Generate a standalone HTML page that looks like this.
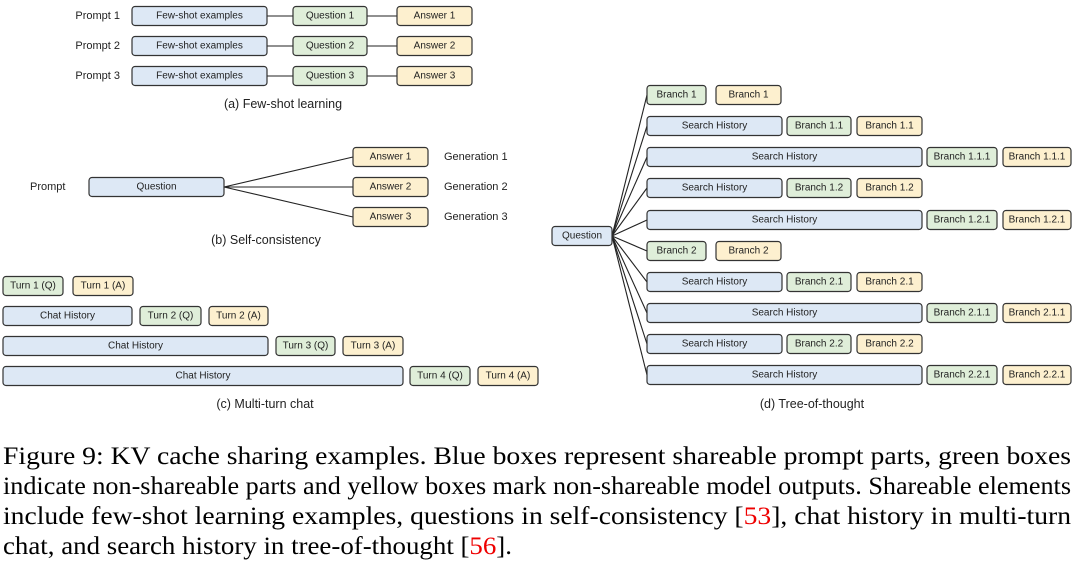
<!DOCTYPE html>
<html><head><meta charset="utf-8"><style>
html,body{margin:0;padding:0;background:#fff;}
svg{display:block;}
.b{fill:#dde8f5;stroke:#333;stroke-width:1.2;}
.g{fill:#dfeed9;stroke:#333;stroke-width:1.2;}
.y{fill:#fdf0cf;stroke:#333;stroke-width:1.2;}
.t{font-family:"Liberation Sans",sans-serif;font-size:10px;fill:#222;text-anchor:middle;dominant-baseline:central;}
.l{font-family:"Liberation Sans",sans-serif;font-size:11px;fill:#222;dominant-baseline:central;}
.c{font-family:"Liberation Sans",sans-serif;font-size:12.5px;fill:#222;text-anchor:middle;dominant-baseline:central;}
.cap{font-family:"Liberation Serif",serif;font-size:25px;fill:#000;}
.ln{stroke:#222;stroke-width:1.1;fill:none;}
</style></head><body>
<svg width="1080" height="562" viewBox="0 0 1080 562" xmlns="http://www.w3.org/2000/svg">
<g>
<line class="ln" x1="267" y1="16" x2="397" y2="16"/><line class="ln" x1="267" y1="46" x2="397" y2="46"/><line class="ln" x1="267" y1="76" x2="397" y2="76"/>
<text class="l" x="120" y="16" text-anchor="end">Prompt 1</text>
<text class="l" x="120" y="46" text-anchor="end">Prompt 2</text>
<text class="l" x="120" y="76" text-anchor="end">Prompt 3</text>
<rect class="b" x="132" y="6.5" width="135" height="19" rx="3"/><text class="t" x="199.5" y="16">Few-shot examples</text>
<rect class="b" x="132" y="36.5" width="135" height="19" rx="3"/><text class="t" x="199.5" y="46">Few-shot examples</text>
<rect class="b" x="132" y="66.5" width="135" height="19" rx="3"/><text class="t" x="199.5" y="76">Few-shot examples</text>
<rect class="g" x="293" y="6.5" width="74" height="19" rx="3"/><text class="t" x="330" y="16">Question 1</text>
<rect class="g" x="293" y="36.5" width="74" height="19" rx="3"/><text class="t" x="330" y="46">Question 2</text>
<rect class="g" x="293" y="66.5" width="74" height="19" rx="3"/><text class="t" x="330" y="76">Question 3</text>
<rect class="y" x="397" y="6.5" width="75" height="19" rx="3"/><text class="t" x="434.5" y="16">Answer 1</text>
<rect class="y" x="397" y="36.5" width="75" height="19" rx="3"/><text class="t" x="434.5" y="46">Answer 2</text>
<rect class="y" x="397" y="66.5" width="75" height="19" rx="3"/><text class="t" x="434.5" y="76">Answer 3</text>
<text class="c" x="283" y="104">(a) Few-shot learning</text>
</g>
<g>
<line class="ln" x1="224" y1="187" x2="353" y2="157"/><line class="ln" x1="224" y1="187" x2="353" y2="187"/><line class="ln" x1="224" y1="187" x2="353" y2="217"/>
<text class="l" x="30" y="187">Prompt</text>
<rect class="b" x="89" y="177.5" width="135" height="19" rx="3"/><text class="t" x="156.5" y="187">Question</text>
<rect class="y" x="353" y="147.5" width="75" height="19" rx="3"/><text class="t" x="390.5" y="157">Answer 1</text>
<rect class="y" x="353" y="177.5" width="75" height="19" rx="3"/><text class="t" x="390.5" y="187">Answer 2</text>
<rect class="y" x="353" y="207.5" width="75" height="19" rx="3"/><text class="t" x="390.5" y="217">Answer 3</text>
<text class="l" x="444" y="157">Generation 1</text>
<text class="l" x="444" y="187">Generation 2</text>
<text class="l" x="444" y="217">Generation 3</text>
<text class="c" x="266" y="240">(b) Self-consistency</text>
</g>
<g>
<rect class="g" x="3" y="276.5" width="60" height="19" rx="3"/><text class="t" x="33" y="286">Turn 1 (Q)</text>
<rect class="y" x="73" y="276.5" width="60" height="19" rx="3"/><text class="t" x="103" y="286">Turn 1 (A)</text>
<rect class="b" x="3" y="306.5" width="129" height="19" rx="3"/><text class="t" x="67.5" y="316">Chat History</text>
<rect class="g" x="140" y="306.5" width="61" height="19" rx="3"/><text class="t" x="170.5" y="316">Turn 2 (Q)</text>
<rect class="y" x="209" y="306.5" width="59" height="19" rx="3"/><text class="t" x="238.5" y="316">Turn 2 (A)</text>
<rect class="b" x="3" y="336.5" width="265" height="19" rx="3"/><text class="t" x="135.5" y="346">Chat History</text>
<rect class="g" x="276" y="336.5" width="59" height="19" rx="3"/><text class="t" x="305.5" y="346">Turn 3 (Q)</text>
<rect class="y" x="343" y="336.5" width="60" height="19" rx="3"/><text class="t" x="373" y="346">Turn 3 (A)</text>
<rect class="b" x="3" y="366.5" width="400" height="19" rx="3"/><text class="t" x="203" y="376">Chat History</text>
<rect class="g" x="410" y="366.5" width="60" height="19" rx="3"/><text class="t" x="440" y="376">Turn 4 (Q)</text>
<rect class="y" x="478" y="366.5" width="60" height="19" rx="3"/><text class="t" x="508" y="376">Turn 4 (A)</text>
<text class="c" x="265" y="404">(c) Multi-turn chat</text>
</g>
<g>
<g class="ln">
<line x1="612" y1="236" x2="647" y2="95"/><line x1="612" y1="236" x2="647" y2="126"/><line x1="612" y1="236" x2="647" y2="157"/><line x1="612" y1="236" x2="647" y2="188"/><line x1="612" y1="236" x2="647" y2="220"/><line x1="612" y1="236" x2="647" y2="251"/><line x1="612" y1="236" x2="647" y2="282"/><line x1="612" y1="236" x2="647" y2="313"/><line x1="612" y1="236" x2="647" y2="344"/><line x1="612" y1="236" x2="647" y2="375"/>
</g>
<rect class="b" x="552" y="226.5" width="60" height="19" rx="3"/><text class="t" x="582" y="236">Question</text>
<rect class="g" x="647" y="85.5" width="59" height="19" rx="3"/><text class="t" x="676.5" y="95">Branch 1</text>
<rect class="y" x="716" y="85.5" width="65" height="19" rx="3"/><text class="t" x="748.5" y="95">Branch 1</text>
<rect class="b" x="647" y="116.5" width="135" height="19" rx="3"/><text class="t" x="714.5" y="126">Search History</text>
<rect class="g" x="787" y="116.5" width="64" height="19" rx="3"/><text class="t" x="819" y="126">Branch 1.1</text>
<rect class="y" x="857" y="116.5" width="65" height="19" rx="3"/><text class="t" x="889.5" y="126">Branch 1.1</text>
<rect class="b" x="647" y="147.5" width="275" height="19" rx="3"/><text class="t" x="784.5" y="157">Search History</text>
<rect class="g" x="927" y="147.5" width="70" height="19" rx="3"/><text class="t" x="962" y="157">Branch 1.1.1</text>
<rect class="y" x="1003" y="147.5" width="68" height="19" rx="3"/><text class="t" x="1037" y="157">Branch 1.1.1</text>
<rect class="b" x="647" y="178.5" width="135" height="19" rx="3"/><text class="t" x="714.5" y="188">Search History</text>
<rect class="g" x="787" y="178.5" width="64" height="19" rx="3"/><text class="t" x="819" y="188">Branch 1.2</text>
<rect class="y" x="857" y="178.5" width="65" height="19" rx="3"/><text class="t" x="889.5" y="188">Branch 1.2</text>
<rect class="b" x="647" y="210.5" width="275" height="19" rx="3"/><text class="t" x="784.5" y="220">Search History</text>
<rect class="g" x="927" y="210.5" width="70" height="19" rx="3"/><text class="t" x="962" y="220">Branch 1.2.1</text>
<rect class="y" x="1003" y="210.5" width="68" height="19" rx="3"/><text class="t" x="1037" y="220">Branch 1.2.1</text>
<rect class="g" x="647" y="241.5" width="59" height="19" rx="3"/><text class="t" x="676.5" y="251">Branch 2</text>
<rect class="y" x="716" y="241.5" width="65" height="19" rx="3"/><text class="t" x="748.5" y="251">Branch 2</text>
<rect class="b" x="647" y="272.5" width="135" height="19" rx="3"/><text class="t" x="714.5" y="282">Search History</text>
<rect class="g" x="787" y="272.5" width="64" height="19" rx="3"/><text class="t" x="819" y="282">Branch 2.1</text>
<rect class="y" x="857" y="272.5" width="65" height="19" rx="3"/><text class="t" x="889.5" y="282">Branch 2.1</text>
<rect class="b" x="647" y="303.5" width="275" height="19" rx="3"/><text class="t" x="784.5" y="313">Search History</text>
<rect class="g" x="927" y="303.5" width="70" height="19" rx="3"/><text class="t" x="962" y="313">Branch 2.1.1</text>
<rect class="y" x="1003" y="303.5" width="68" height="19" rx="3"/><text class="t" x="1037" y="313">Branch 2.1.1</text>
<rect class="b" x="647" y="334.5" width="135" height="19" rx="3"/><text class="t" x="714.5" y="344">Search History</text>
<rect class="g" x="787" y="334.5" width="64" height="19" rx="3"/><text class="t" x="819" y="344">Branch 2.2</text>
<rect class="y" x="857" y="334.5" width="65" height="19" rx="3"/><text class="t" x="889.5" y="344">Branch 2.2</text>
<rect class="b" x="647" y="365.5" width="275" height="19" rx="3"/><text class="t" x="784.5" y="375">Search History</text>
<rect class="g" x="927" y="365.5" width="70" height="19" rx="3"/><text class="t" x="962" y="375">Branch 2.2.1</text>
<rect class="y" x="1003" y="365.5" width="68" height="19" rx="3"/><text class="t" x="1037" y="375">Branch 2.2.1</text>
<text class="c" x="812" y="404">(d) Tree-of-thought</text>
</g>
<text class="cap" x="3" y="464" textLength="1068" lengthAdjust="spacingAndGlyphs">Figure 9: KV cache sharing examples. Blue boxes represent shareable prompt parts, green boxes</text>
<text class="cap" x="3" y="494" textLength="1068" lengthAdjust="spacingAndGlyphs">indicate non-shareable parts and yellow boxes mark non-shareable model outputs. Shareable elements</text>
<text class="cap" x="3" y="524" textLength="1068" lengthAdjust="spacingAndGlyphs">include few-shot learning examples, questions in self-consistency [<tspan fill="#e00">53</tspan>], chat history in multi-turn</text>
<text class="cap" x="3" y="554" textLength="509" lengthAdjust="spacingAndGlyphs">chat, and search history in tree-of-thought [<tspan fill="#e00">56</tspan>].</text>
</svg>
</body></html>
